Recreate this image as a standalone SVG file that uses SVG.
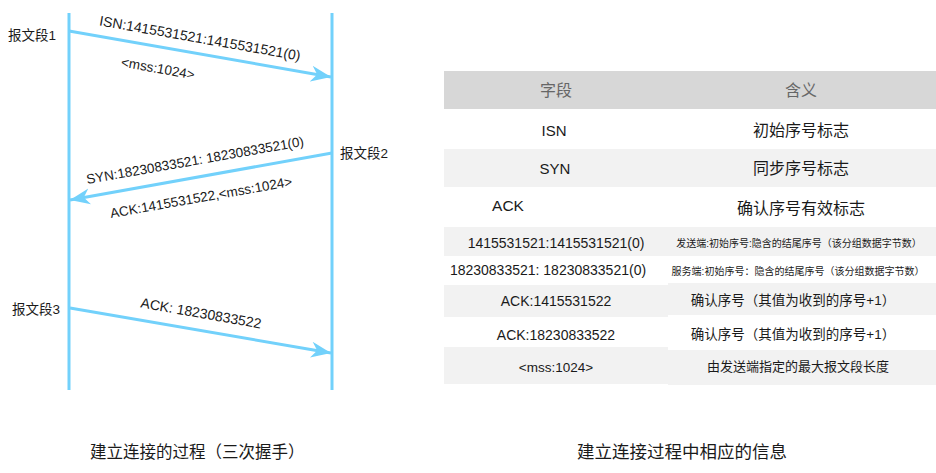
<svg xmlns="http://www.w3.org/2000/svg" width="936" height="473" viewBox="0 0 936 473">
<style>
text{font-family:"Liberation Sans","Noto Sans CJK SC",sans-serif;fill:#1a1a1a}
.life{stroke:#72d1fb;stroke-width:3}
.msg{stroke:#72d1fb;stroke-width:3;fill:none}
.hd{fill:#d7d7d7}
.rw{fill:#f2f2f2}
.th{font-size:16px;fill:#666;text-anchor:middle}
.c{text-anchor:middle}
</style>
<defs>
<marker id="ah" markerUnits="userSpaceOnUse" markerWidth="22" markerHeight="18" refX="20" refY="8" orient="auto" viewBox="0 0 22 16">
<path d="M0,0 L20,8 L0,16 L6,8 Z" fill="#72d1fb"/>
</marker>
</defs>
<g id="lifelines">
<line class="life" x1="69" y1="13" x2="69" y2="390"/>
<line class="life" x1="332" y1="13" x2="332" y2="390"/>
</g>
<g id="connectors">
<line class="msg" x1="69" y1="31" x2="331" y2="77" marker-end="url(#ah)"/>
<line class="msg" x1="332" y1="153" x2="70" y2="200" marker-end="url(#ah)"/>
<line class="msg" x1="70" y1="308" x2="331" y2="353" marker-end="url(#ah)"/>
</g>
<g id="seg1">
<text x="8" y="40" font-size="13.5">报文段1</text>
<text class="c" x="200" y="43" font-size="14" transform="rotate(10 200 38)">ISN:1415531521:1415531521(0)</text>
<text class="c" x="158" y="73" font-size="13.5" transform="rotate(10 158 68)">&lt;mss:1024&gt;</text>
</g>
<g id="seg2">
<text x="340" y="158" font-size="13.5">报文段2</text>
<text class="c" x="195" y="165" font-size="13.5" transform="rotate(-10 195 160)">SYN:18230833521: 18230833521(0)</text>
<text class="c" x="201" y="202" font-size="13.5" transform="rotate(-10 201 197)">ACK:1415531522,&lt;mss:1024&gt;</text>
</g>
<g id="seg3">
<text x="12" y="314" font-size="13.5">报文段3</text>
<text class="c" x="201" y="318" font-size="14" transform="rotate(10 201 313)">ACK: 18230833522</text>
</g>
<g id="table">
<rect class="hd" x="444" y="71" width="492" height="38"/>
<rect class="rw" x="444" y="149" width="492" height="38"/>
<rect class="rw" x="444" y="227" width="224" height="29"/>
<rect class="rw" x="668" y="227" width="268" height="29"/>
<rect class="rw" x="444" y="285" width="224" height="32"/>
<rect class="rw" x="668" y="283" width="268" height="32"/>
<rect class="rw" x="444" y="347" width="224" height="37"/>
<rect class="rw" x="668" y="350" width="268" height="35"/>
<text class="th" x="556" y="96">字段</text>
<text class="th" x="801" y="96">含义</text>
<text class="c" x="554" y="136" font-size="15">ISN</text>
<text class="c" x="801" y="136" font-size="16">初始序号标志</text>
<text class="c" x="555" y="174" font-size="15">SYN</text>
<text class="c" x="801" y="174" font-size="16">同步序号标志</text>
<text class="c" x="508" y="211" font-size="15.5">ACK</text>
<text class="c" x="801" y="214" font-size="16">确认序号有效标志</text>
<text class="c" x="556" y="248" font-size="14">1415531521:1415531521(0)</text>
<text class="c" x="799" y="246.5" font-size="10">发送端:初始序号:隐含的结尾序号（该分组数据字节数）</text>
<text class="c" x="548" y="275" font-size="14">18230833521: 18230833521(0)</text>
<text class="c" x="798" y="274.5" font-size="10">服务端:初始序号：隐含的结尾序号（该分组数据字节数）</text>
<text class="c" x="556" y="306" font-size="14">ACK:1415531522</text>
<text class="c" x="793" y="305" font-size="13.5">确认序号（其值为收到的序号+1）</text>
<text class="c" x="556" y="340" font-size="14">ACK:18230833522</text>
<text class="c" x="793" y="339" font-size="13.5">确认序号（其值为收到的序号+1）</text>
<text class="c" x="556" y="372" font-size="13.5">&lt;mss:1024&gt;</text>
<text class="c" x="798" y="371" font-size="13">由发送端指定的最大报文段长度</text>
</g>
<g id="captions">
<text x="90" y="458" font-size="16.5">建立连接的过程（三次握手）</text>
<text x="577" y="458" font-size="17.5">建立连接过程中相应的信息</text>
</g>
</svg>
